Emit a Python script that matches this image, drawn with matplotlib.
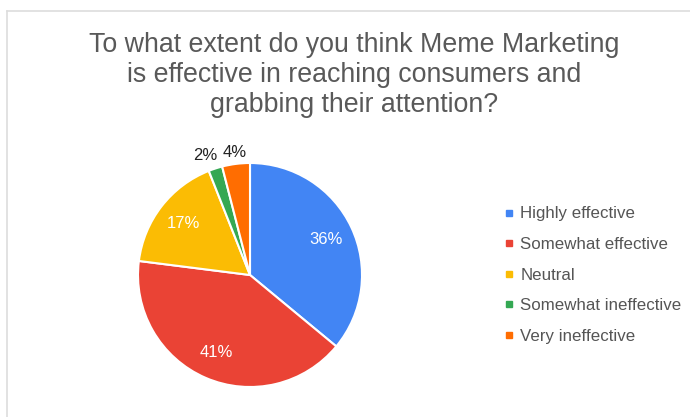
import numpy as np
import matplotlib.pyplot as plt
from matplotlib.lines import Line2D

plt.rcParams["font.family"] = ["Liberation Sans", "DejaVu Sans"]

# survey answers
labels = [
    "Highly effective",
    "Somewhat effective",
    "Neutral",
    "Somewhat ineffective",
    "Very ineffective",
]
shares = [36, 41, 17, 2, 4]
colors = ["#4285F4", "#EA4335", "#FBBC04", "#34A853", "#FF6D01"]
title = (
    "To what extent do you think Meme Marketing\n"
    "is effective in reaching consumers and\n"
    "grabbing their attention?"
)

fig = plt.figure(figsize=(6.9, 4.17), dpi=100)
fig.patch.set_facecolor("white")

# thin grey frame at the top and left edges
fig.add_artist(Line2D([7 / 690, 1], [1 - 11 / 417, 1 - 11 / 417],
                      transform=fig.transFigure, color="#dddddd", lw=1.2))
fig.add_artist(Line2D([7 / 690, 7 / 690], [0, 1 - 11 / 417],
                      transform=fig.transFigure, color="#dddddd", lw=1.2))

fig.text(354 / 690, 1 - 75 / 417, title, ha="center", va="center",
         fontsize=19.3, color="#595959", linespacing=1.2)

# pie axes: centre about (250, 275) px, radius ~112 px
r = 112
cx, cy = 250, 275
ax = fig.add_axes([(cx - r) / 690, 1 - (cy + r) / 417, 2 * r / 690, 2 * r / 417])
wedges, _ = ax.pie(
    shares,
    colors=colors,
    startangle=90,
    counterclock=False,
    radius=1.0,
    wedgeprops=dict(edgecolor="white", linewidth=1.5),
)
ax.set_aspect("equal")
ax.set_xlim(-1, 1)
ax.set_ylim(-1, 1)

# percentage labels: inside for large slices, outside for small ones
start = 90.0
for i, share in enumerate(shares):
    mid = np.deg2rad(start - share * 3.6 / 2)
    start -= share * 3.6
    txt = f"{share}%"
    if share >= 10:
        d = 0.75
        ax.text(d * np.cos(mid), d * np.sin(mid), txt, ha="center", va="center",
                color="white", fontsize=12)
    else:
        d = 1.1
        # keep the two small outside labels from touching
        nudge = (-5, 2) if i == 3 else (0, 0)
        ax.annotate(txt, (d * np.cos(mid), d * np.sin(mid)), xytext=nudge,
                    textcoords="offset points", ha="center", va="center",
                    color="#222222", fontsize=12, annotation_clip=False)

# legend with small square markers
handles = [
    Line2D([], [], marker="s", ls="", markersize=4.5, markerfacecolor=c,
           markeredgecolor=c)
    for c in colors
]
fig.legend(handles, labels, loc="upper left",
           bbox_to_anchor=(495 / 690, 1 - 198 / 417), frameon=False,
           fontsize=12.2, labelcolor="#555555", handlelength=0.6,
           handletextpad=0.4, labelspacing=0.92, borderpad=0)

fig.savefig("out.png", dpi=100, facecolor="white")
